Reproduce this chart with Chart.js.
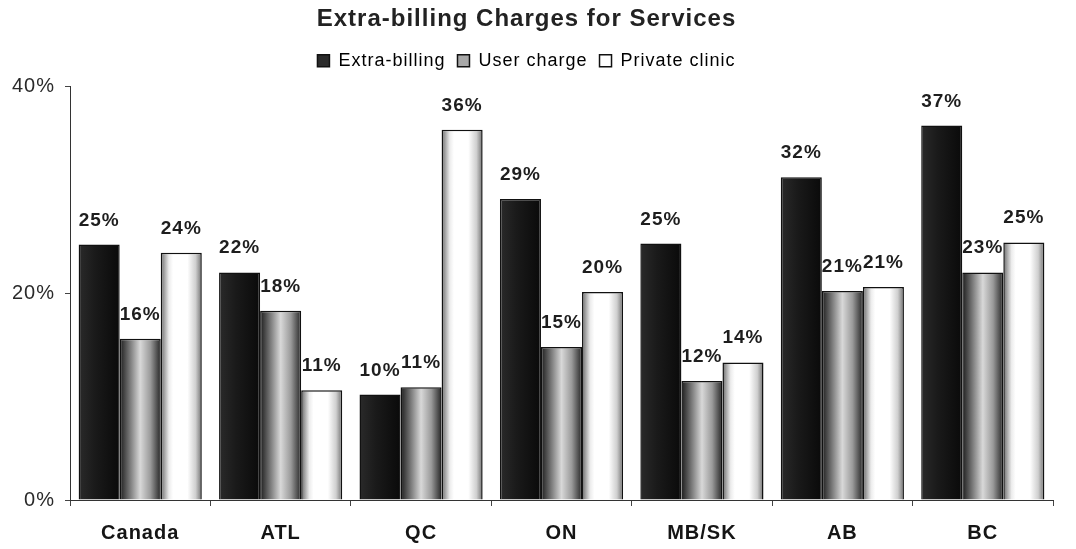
<!DOCTYPE html>
<html>
<head>
<meta charset="utf-8">
<script src="https://cdn.jsdelivr.net/npm/chart.js@4"></script>
<style>
html, body { margin: 0; padding: 0; background: #fff; }
</style>
</head>
<body>
<canvas id="chart" width="1076" height="549"></canvas>
<script>
// data
var categories = ['Canada', 'ATL', 'QC', 'ON', 'MB/SK', 'AB', 'BC'];
var extraBilling = [24.7, 22.0, 10.2, 29.1, 24.8, 31.2, 36.2];
var userCharge = [15.6, 18.3, 10.9, 14.8, 11.5, 20.2, 22.0];
var privateClinic = [23.9, 10.6, 35.8, 20.1, 13.3, 20.6, 24.9];
// printed labels above the bars
var extraLabels = ['25%', '22%', '10%', '29%', '25%', '32%', '37%'];
var userLabels = ['16%', '18%', '11%', '15%', '12%', '21%', '23%'];
var privateLabels = ['24%', '11%', '36%', '20%', '14%', '21%', '25%'];
var yTicks = [0, 20, 40];

var barLabels = [extraLabels, userLabels, privateLabels];

// cylinder-like shading for each series
var fills = [
    [[0, '#2a2a2a'], [0.4, '#1a1a1a'], [1, '#0a0a0a']],
    [[0, '#1c1c1c'], [0.3, '#8c8c8c'], [0.5, '#d8d8d8'], [0.75, '#9a9a9a'], [1, '#262626']],
    [[0, '#6a6a6a'], [0.2, '#ececec'], [0.3, '#ffffff'], [0.65, '#ffffff'], [0.85, '#cfcfcf'], [1, '#707070']]
];
var legendColors = ['#2b2b2b', '#a8a8a8', '#ffffff'];

var shadePlugin = {
    id: 'shade',
    beforeUpdate: function(chart) {
        // the scanned original has slightly spaced-out lettering
        chart.ctx.letterSpacing = '1px';
    },
    beforeLayout: function(chart) {
        // legend block a bit taller, so plot starts where the original does
        var lg = chart.legend;
        if (lg && !lg._tall) {
            var f = lg.fit;
            lg.fit = function() { f.call(this); this.height += 6.5; };
            lg._tall = true;
        }
    },
    beforeDraw: function(chart) {
        chart.ctx.letterSpacing = '1px';
    },
    beforeDatasetsDraw: function(chart) {
        var c = chart.ctx;
        chart.data.datasets.forEach(function(ds, di) {
            chart.getDatasetMeta(di).data.forEach(function(bar) {
                var p = bar.getProps(['x', 'width'], true);
                var g = c.createLinearGradient(p.x - p.width / 2, 0, p.x + p.width / 2, 0);
                fills[di].forEach(function(s) { g.addColorStop(s[0], s[1]); });
                bar.options = Object.assign({}, bar.options, { backgroundColor: g, borderColor: '#111' });
            });
        });
    },
    afterDatasetsDraw: function(chart) {
        var c = chart.ctx;
        c.save();
        c.font = 'bold 19px "Liberation Sans", Arial, sans-serif';
        c.fillStyle = '#1e1e1e';
        c.textAlign = 'center';
        c.textBaseline = 'alphabetic';
        chart.data.datasets.forEach(function(ds, di) {
            chart.getDatasetMeta(di).data.forEach(function(bar, i) {
                c.fillText(barLabels[di][i], bar.x, bar.y - 19);
            });
        });
        c.restore();
    }
};

var ctx = document.getElementById('chart').getContext('2d');
var chart = new Chart(ctx, {
    type: 'bar',
    data: {
        labels: categories,
        datasets: [
            { label: 'Extra-billing', data: extraBilling, borderColor: '#111', backgroundColor: '#1a1a1a' },
            { label: 'User charge', data: userCharge, borderColor: '#111', backgroundColor: '#999' },
            { label: 'Private clinic', data: privateClinic, borderColor: '#111', backgroundColor: '#fff' }
        ]
    },
    options: {
        responsive: false,
        devicePixelRatio: 1,
        animation: false,
        datasets: {
            bar: {
                categoryPercentage: 0.877,
                barPercentage: 1,
                borderWidth: 1.5
            }
        },
        layout: { padding: { left: 0, right: 23, top: 0, bottom: 0 } },
        plugins: {
            colors: { enabled: false },
            title: {
                display: true,
                text: 'Extra-billing Charges for Services',
                color: '#222',
                font: { family: '"Liberation Sans", Arial, sans-serif', size: 24, weight: 'bold' },
                padding: { top: 5, bottom: 6 }
            },
            legend: {
                display: true,
                labels: {
                    color: '#222',
                    font: { family: '"Liberation Sans", Arial, sans-serif', size: 18 },
                    boxWidth: 12,
                    boxHeight: 12,
                    padding: 12,
                    generateLabels: function(chart) {
                        return chart.data.datasets.map(function(ds, i) {
                            return {
                                text: ds.label,
                                fillStyle: legendColors[i],
                                strokeStyle: '#111',
                                lineWidth: 1.5,
                                datasetIndex: i
                            };
                        });
                    }
                }
            },
            tooltip: { enabled: false }
        },
        scales: {
            x: {
                grid: { drawOnChartArea: false, drawTicks: true, tickLength: 6, color: '#444' },
                border: { color: '#333', width: 1 },
                ticks: {
                    color: '#151515',
                    padding: 15,
                    font: { family: '"Liberation Sans", Arial, sans-serif', size: 20, weight: 'bold' }
                },
                afterFit: function(scale) { scale.height = 49; }
            },
            y: {
                min: 0,
                max: 40,
                afterBuildTicks: function(scale) {
                    scale.ticks = yTicks.map(function(v) { return { value: v }; });
                },
                grid: { drawOnChartArea: false, drawTicks: true, tickLength: 5, color: '#444' },
                border: { color: '#333', width: 1 },
                ticks: {
                    color: '#2a2a2a',
                    padding: 10,
                    font: { family: '"Liberation Sans", Arial, sans-serif', size: 20 },
                    callback: function(v) { return v + '%'; }
                },
                afterFit: function(scale) { scale.width = 70; }
            }
        }
    },
    plugins: [shadePlugin]
});
</script>
</body>
</html>
